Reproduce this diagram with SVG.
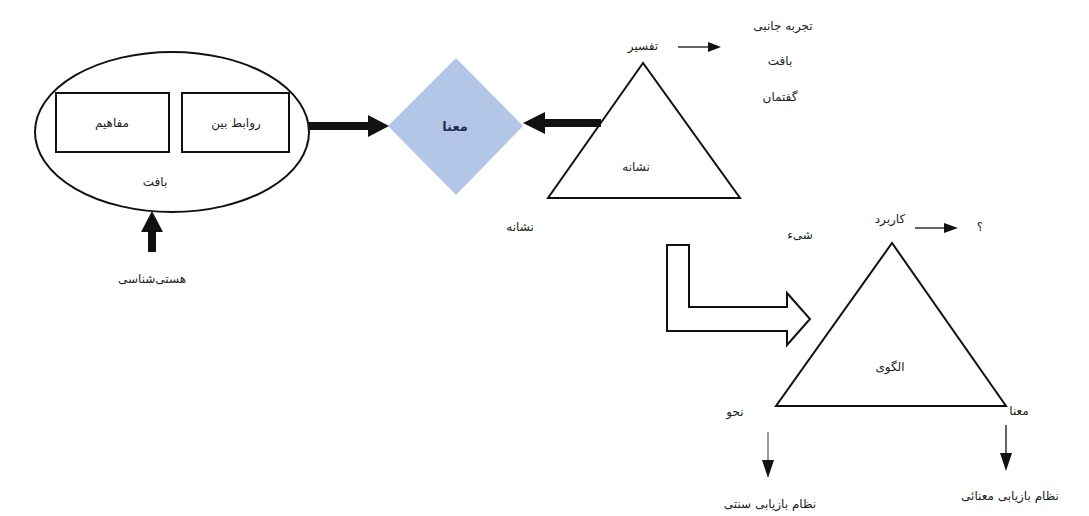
<svg xmlns="http://www.w3.org/2000/svg" width="1089" height="516" viewBox="0 0 1089 516">
<defs>
<style>
.t{font-family:"DejaVu Sans",sans-serif;font-size:12px;fill:#222;text-anchor:middle;direction:rtl}
.ln{fill:none;stroke:#111;stroke-width:2}
.thin{fill:none;stroke:#111;stroke-width:1.3}
.ah{fill:#111}
</style>
</defs>
<rect width="1089" height="516" fill="#fff"/>

<g id="context">
<ellipse cx="172" cy="132" rx="137" ry="80" class="ln"/>
<rect x="56" y="93" width="113" height="59" class="ln"/>
<rect x="182" y="93" width="107" height="59" class="ln"/>
<text class="t" x="112" y="127">مفاهیم</text>
<text class="t" x="236" y="127">روابط بین</text>
<text class="t" x="155" y="186">بافت</text>
</g>

<g id="ontology">
<text class="t" x="152" y="283">هستی‌شناسی</text>
</g>

<g id="meaning">
<polygon points="388,126 456,58 523,126 456,195" fill="#b4c6e7"/>
<text class="t" x="455" y="131" style="font-weight:bold;fill:#1f2d50;font-size:13px">معنا</text>
</g>

<g id="sign">
<polygon points="643,63 548,198 740,198" class="ln"/>
<text class="t" x="636" y="171">نشانه</text>
<text class="t" x="643" y="50">تفسیر</text>
<text class="t" x="783" y="30">تجربه جانبی</text>
<text class="t" x="780" y="65">بافت</text>
<text class="t" x="780" y="101">گفتمان</text>
<text class="t" x="520" y="231">نشانه</text>
<text class="t" x="800" y="239">شیء</text>
</g>

<g id="pattern">
<polygon points="892,243 776,406 1006,406" class="ln"/>
<text class="t" x="890" y="371">الگوی</text>
<text class="t" x="890" y="223">کاربرد</text>
<text class="t" x="980" y="231">؟</text>
<text class="t" x="735" y="416">نحو</text>
<text class="t" x="1019" y="415">معنا</text>
<text class="t" x="770" y="508">نظام بازیابی سنتی</text>
<text class="t" x="1010" y="500">نظام بازیابی معنائی</text>
</g>

<g id="connectors">
<polygon class="ah" points="308,122 368,122 368,115 389,126 368,137 368,130 308,130"/>
<polygon class="ah" points="601,119 545,119 545,112 523,123 545,134 545,127 601,127"/>
<polygon class="ah" points="148,252 148,232 141,232 152,211 163,232 156,232 156,252"/>
<line x1="678" y1="47" x2="710" y2="47" class="thin"/>
<polygon class="ah" points="708,42 721,47 708,52"/>
<line x1="915" y1="228" x2="946" y2="228" class="thin"/>
<polygon class="ah" points="944,223 958,228 944,233"/>
<line x1="768" y1="432" x2="768" y2="462" stroke="#777" stroke-width="1.5"/>
<polygon class="ah" points="762,460 774,460 768,478"/>
<line x1="1006" y1="425" x2="1006" y2="455" class="thin"/>
<polygon class="ah" points="1000,453 1012,453 1006,471"/>
<polygon points="667,245 689,245 689,307 787,307 787,293 810,319 787,345 787,331 667,331" fill="#fff" stroke="#111" stroke-width="2"/>
</g>
</svg>
